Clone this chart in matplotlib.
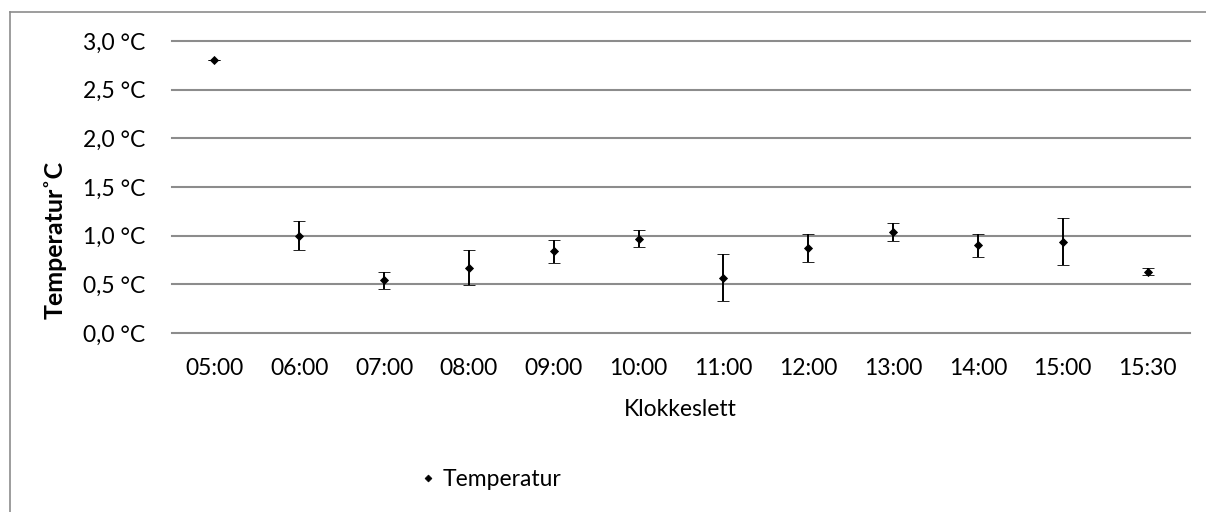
import matplotlib
matplotlib.use("Agg")
import matplotlib.pyplot as plt
from matplotlib.lines import Line2D

plt.rcParams['font.family'] = ['Lato', 'DejaVu Sans']

klokkeslett = ["05:00", "06:00", "07:00", "08:00", "09:00", "10:00",
               "11:00", "12:00", "13:00", "14:00", "15:00", "15:30"]
temperatur = [2.80, 1.00, 0.54, 0.67, 0.84, 0.97, 0.57, 0.87, 1.04, 0.90, 0.94, 0.63]
avvik = [0.00, 0.15, 0.09, 0.18, 0.12, 0.09, 0.24, 0.145, 0.09, 0.117, 0.24, 0.035]
y_ticks = [0.0, 0.5, 1.0, 1.5, 2.0, 2.5, 3.0]

B, H = 1206, 512
STR = 16.5
GRAA = "#8c8c8c"
fig = plt.figure(figsize=(B / 100, H / 100), dpi=100)


def px(x, y):
    # pikselposisjon (fra øvre venstre hjørne) til figurkoordinater
    return x / B, 1 - y / H


# ramme rundt diagrammet (bare venstre og topp synlig)
fig.add_artist(Line2D([10 / B, 10 / B], [0, 1 - 12 / H], color=GRAA, lw=1.2))
fig.add_artist(Line2D([10 / B, 1], [1 - 12 / H, 1 - 12 / H], color=GRAA, lw=1.2))

ax = fig.add_axes([172 / B, 1 - 333 / H, (1190 - 172) / B, (333 - 41) / H])

x = list(range(len(klokkeslett)))
ax.errorbar(x, temperatur, yerr=avvik, fmt="D", color="black", ms=4, mew=0.6,
            ecolor="black", elinewidth=1.4, capsize=4.3, capthick=1.4, zorder=3)

ax.set_xlim(-0.5, len(klokkeslett) - 0.5)
ax.set_ylim(0, 3.0)
ax.set_xticks(x)
ax.set_xticklabels(klokkeslett)
ax.set_yticks(y_ticks)
ax.set_yticklabels(["{:.1f} °C".format(v).replace(".", ",") for v in y_ticks])
ax.tick_params(length=0, labelsize=STR, colors="black")
ax.tick_params(axis="y", pad=19)
ax.tick_params(axis="x", pad=18)

for side in ax.spines:
    ax.spines[side].set_visible(False)
ax.yaxis.grid(True, color=GRAA, linewidth=1.5)
for linje in ax.get_ygridlines():
    linje.set_clip_on(False)
ax.set_axisbelow(True)

# aksetitler
fig.text(*px(680, 416), "Klokkeslett", fontsize=STR, ha="center", va="baseline")
fig.text(*px(55, 240), "Temperatur˚C", fontsize=18, fontweight="bold",
         rotation=90, ha="center", va="center")

# forklaring under diagrammet
ax.legend([Line2D([], [], marker="D", color="black", ls="none", ms=3.5, mew=0.5)], ["Temperatur"],
          loc="center left", bbox_to_anchor=px(422, 480),
          bbox_transform=fig.transFigure, frameon=False, fontsize=STR,
          handlelength=0.5, handletextpad=0.4, borderpad=0, borderaxespad=0)

fig.savefig("out.png", dpi=100)
